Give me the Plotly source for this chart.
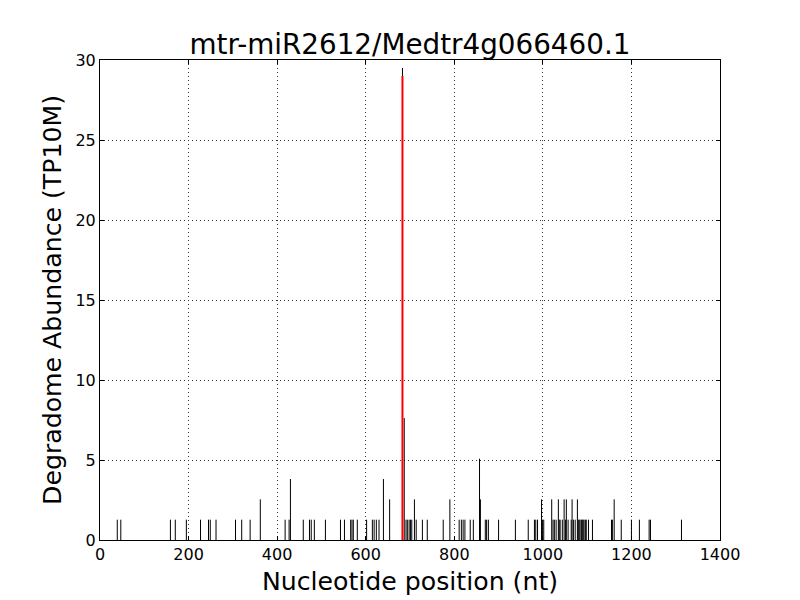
import plotly.graph_objects as go

# Degradome read positions (nt) and abundances (TP10M)
positions = [39, 47, 159, 170, 195, 227, 245, 249, 262, 306, 320, 339, 362,
             418, 427, 430, 459, 473, 477, 484, 509, 543, 552, 566, 569, 572,
             581, 602, 615, 619, 624, 630, 640, 654, 683, 687, 691, 694, 698,
             701, 704, 710, 714, 728, 739, 775, 790, 811, 816, 820, 824, 836,
             843, 857, 859, 870, 873, 877, 900, 938, 967, 981, 984, 988, 997,
             999, 1002, 1020, 1023, 1026, 1030, 1035, 1037, 1039, 1044, 1048,
             1051, 1053, 1057, 1064, 1066, 1069, 1073, 1078, 1080, 1082, 1084,
             1087, 1089, 1091, 1093, 1096, 1098, 1103, 1112, 1155, 1157, 1161,
             1177, 1200, 1218, 1240, 1243, 1313]
abundance = [1.27, 1.27, 1.27, 1.27, 1.27, 1.27, 1.27, 1.27, 1.27, 1.27, 1.27, 1.27, 2.54,
             1.27, 1.27, 3.81, 1.27, 1.27, 1.27, 1.27, 1.27, 1.27, 1.27, 1.27, 1.27, 1.27,
             1.27, 1.27, 1.27, 1.27, 1.27, 1.27, 3.81, 2.54, 29.5, 7.62, 1.27, 1.27, 1.27,
             1.27, 1.27, 2.54, 1.27, 1.27, 1.27, 1.27, 2.54, 1.27, 1.27, 1.27, 1.27, 1.27,
             1.27, 5.08, 2.54, 1.27, 1.27, 1.27, 1.27, 1.27, 1.27, 1.27, 1.27, 1.27, 2.54,
             1.27, 1.27, 2.54, 1.27, 1.27, 1.27, 2.54, 1.27, 1.27, 1.27, 2.54,
             1.27, 2.54, 1.27, 1.27, 2.54, 1.27, 1.27, 2.54, 1.27, 1.27, 1.27,
             1.27, 1.27, 1.27, 1.27, 1.27, 1.27, 1.27, 1.27, 1.27, 1.27, 2.54,
             1.27, 1.27, 1.27, 1.27, 1.27, 1.27]

# Predicted cleavage site
site_positions = [683]
site_abundance = [29.0]

x_ticks = [0, 200, 400, 600, 800, 1000, 1200, 1400]
y_ticks = [0, 5, 10, 15, 20, 25, 30]


def stems(xs, ys):
    sx, sy = [], []
    for x, y in zip(xs, ys):
        sx += [x, x, None]
        sy += [0, y, None]
    return sx, sy


bx, by = stems(positions, abundance)
rx, ry = stems(site_positions, site_abundance)

fig = go.Figure()
fig.add_trace(go.Scatter(x=bx, y=by, mode="lines",
                         line=dict(color="black", width=1),
                         hoverinfo="skip", showlegend=False))
fig.add_trace(go.Scatter(x=rx, y=ry, mode="lines",
                         line=dict(color="red", width=2),
                         hoverinfo="skip", showlegend=False))

font = "DejaVu Sans, Liberation Sans, sans-serif"
axis_common = dict(
    showline=True, linecolor="black", linewidth=1, mirror="ticks",
    ticks="inside", ticklen=4, tickcolor="black", tickwidth=1,
    showgrid=True, gridcolor="#333333", gridwidth=1, griddash="1px,3px",
    zeroline=False, automargin=False,
    tickfont=dict(size=16, color="black", family=font),
)

fig.update_layout(
    width=800, height=600,
    paper_bgcolor="white", plot_bgcolor="white",
    margin=dict(l=92, r=88, t=52, b=68),
    font=dict(family=font, color="black"),
    title=dict(text="mtr-miR2612/Medtr4g066460.1", x=(410 - 8) / 800, xanchor="center",
               y=1 - 36 / 600, yanchor="middle", yref="container",
               font=dict(size=27.8, color="black", family=font)),
    xaxis=dict(range=[0, 1400], tickvals=x_ticks,
               title=dict(text="Nucleotide position (nt)", standoff=9,
                          font=dict(size=25.2, family=font)),
               **axis_common),
    yaxis=dict(range=[0, 30], tickvals=y_ticks,
               title=dict(text="Degradome Abundance (TP10M)", standoff=6,
                          font=dict(size=25.2, family=font)),
               **axis_common),
)

fig.write_html("out.html")
